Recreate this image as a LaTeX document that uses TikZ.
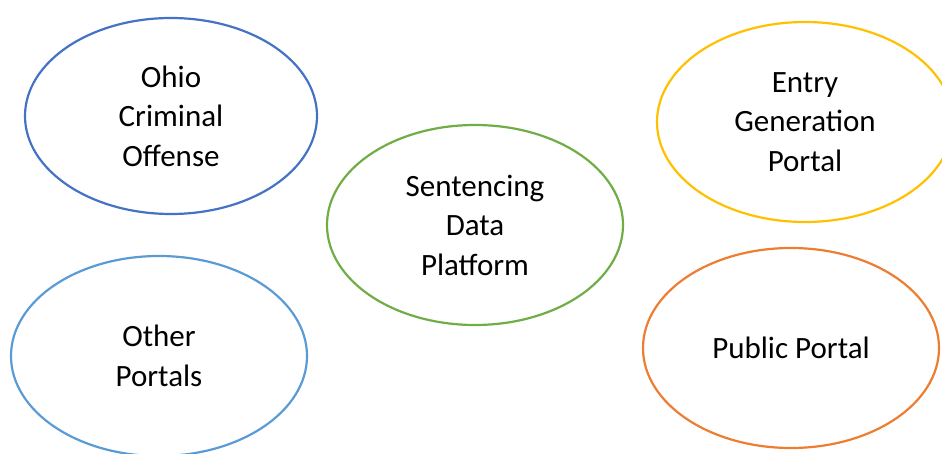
\documentclass[tikz,border=0pt]{standalone}
\usepackage{fontspec}
\setmainfont{Carlito}
\usetikzlibrary{shapes.geometric}

\definecolor{offblue}{HTML}{4472C4}
\definecolor{offgreen}{HTML}{70AD47}
\definecolor{offgold}{HTML}{FFC000}
\definecolor{offsky}{HTML}{5B9BD5}
\definecolor{offorange}{HTML}{ED7D31}

\begin{document}
\begin{tikzpicture}[
  x=1pt, y=-1pt,
  blob/.style={draw, ellipse, line width=2.2pt, inner sep=0pt,
               minimum width=296pt, minimum height=200pt, align=center,
               font=\fontsize{31}{39.5}\selectfont}
]
  \path[use as bounding box] (0,0) rectangle (942,454);
  \node[blob, draw=offblue, minimum width=292pt, minimum height=196pt] (ohio) at (171,116) {Ohio\\Criminal\\Offense};
  \node[blob, draw=offgreen] (sdp) at (475,225) {Sentencing\\Data\\Platform};
  \node[blob, draw=offgold] (entry) at (805,122) {Entry\\Generation\\Portal};
  \node[blob, draw=offsky] (other) at (159,356) {Other\\Portals};
  \node[blob, draw=offorange] (public) at (791,348) {Public Portal};
\end{tikzpicture}
\end{document}
